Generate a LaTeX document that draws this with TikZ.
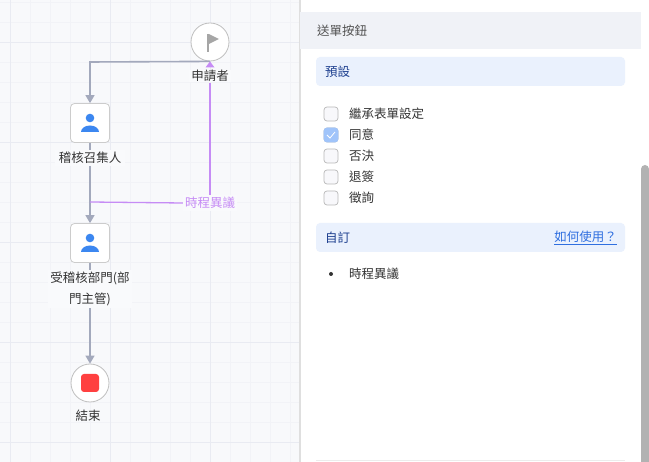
\documentclass[tikz,border=0pt]{standalone}
\usepackage{fontspec}
\setmainfont{Noto Sans CJK TC}
\usetikzlibrary{arrows.meta}
\definecolor{gridc}{HTML}{E9EBF2}
\definecolor{edge}{HTML}{A3A9BC}
\definecolor{purp}{HTML}{C68CF5}
\definecolor{blueic}{HTML}{3C87F0}
\definecolor{hdr}{HTML}{F0F2F7}
\definecolor{lblue}{HTML}{EAF1FD}
\definecolor{dblue}{HTML}{1D3F8F}
\definecolor{link}{HTML}{2F6FE0}
\definecolor{chk}{HTML}{A0C4FA}
\definecolor{txt}{HTML}{333333}
\tikzset{
  every node/.style={font=\fontsize{12.5}{17}\selectfont, text=txt},
  taskbox/.style={draw=gray!40, line width=0.8pt, fill=white, rounded corners=4pt, minimum size=39pt, inner sep=0},
  evt/.style={circle, draw=gray!50, line width=0.8pt, fill=white, minimum size=38pt, inner sep=0},
  lbl/.style={fill=white!60!hdr, inner sep=2pt},
  flow/.style={draw=edge, line width=1.6pt, -{Triangle[length=8pt,width=9pt]}},
  pflow/.style={draw=purp, line width=1.3pt},
  cbox/.style={draw=gray!55, fill=hdr!50, line width=0.7pt, rounded corners=3pt, minimum size=14pt, inner sep=0},
  itm/.style={anchor=west, inner sep=0}
}
\begin{document}
\begin{tikzpicture}[x=1pt,y=-1pt]
\useasboundingbox (0,0) rectangle (649,462);
\fill[white!50!hdr] (0,0) rectangle (300,462);
\foreach \x in {10,30,...,290} \draw[gridc!60, line width=0.5pt] (\x,0) -- (\x,462);
\foreach \y in {2,22,...,462} \draw[gridc!60, line width=0.5pt] (0,\y) -- (300,\y);
\foreach \x in {10,110,210} \draw[gridc, line width=0.8pt] (\x,0) -- (\x,462);
\foreach \y in {42,142,242,342,442} \draw[gridc, line width=0.8pt] (0,\y) -- (300,\y);
% nodes
\node[evt] (start) at (210,42) {};
\fill[gray!70] (207,34) rectangle (208.8,52);
\fill[gray!70] (208.8,34) -- (219,39) -- (208.8,44) -- cycle;
\node[taskbox] (t1) at (90,123) {};
\node[taskbox] (t2) at (90,243) {};
\foreach \y in {123,243}{
  \fill[blueic] (90,\y-5) circle (4.3);
  \fill[blueic] (81,\y+9) arc (180:360:9 and 6.5) -- cycle;
}
\node[lbl] (l1) at (90,158) {\,稽核召集人\,};
\node[lbl, align=center, font=\fontsize{12.5}{21}\selectfont] (l2) at (90,289) {受稽核部門(部\\門主管)};
\node[evt] (end) at (90,383) {};
\fill[red!75!white, rounded corners=3pt] (81,374) rectangle (99,392);
\node[lbl, fill=none] (lend) at (88,416) {結束};
% edges
\coordinate (c1) at (90,62);
\draw[flow] (start.south) -- (c1) -- (t1.north);
\draw[draw=edge, line width=1.6pt] (t1.south) -- (l1.north);
\draw[flow] (l1.south) -- (t2.north);
\draw[draw=edge, line width=1.6pt] (t2.south) -- (l2.north);
\draw[flow] (l2.south) -- (end.north);
\node[lbl, text=purp] (pl) at (210,203) {時程異議};
\coordinate (c2) at (90,202);
\draw[pflow] (c2) -- (pl.west);
\node[lbl, inner ysep=0.5pt] (lstart) at (210,76) {申請者};
\draw[pflow] (pl.north) -- (lstart.south);
\fill[purp] (205.5,67.5) -- (214.5,67.5) -- (210,61.5) -- cycle;
% right panel
\fill[white] (300,0) rectangle (649,462);
\fill[gray!25] (299,0) rectangle (300.5,462);
\fill[hdr] (300,12) rectangle (641,49);
\node[itm, text=txt!85] (h) at (317,31) {送單按鈕};
\fill[lblue, rounded corners=4pt] (316,57) rectangle (625,86);
\node[itm, text=dblue] (p) at (325,72) {預設};
\foreach \y/\t [count=\i] in {114/繼承表單設定,135/同意,156/否決,177/退簽,198/徵詢}{
  \node[cbox] (cb\i) at (331,\y) {};
  \node[itm] (ct\i) at (349,\y) {\t};
}
\node[cbox, draw=chk, fill=chk] at (cb2) {};
\draw[white, line width=0.8pt] (327,135) -- (330,138) -- (335,132);
\fill[lblue, rounded corners=4pt] (316,223) rectangle (625,252);
\node[itm, text=dblue] (c) at (325,238) {自訂};
\node[anchor=east, inner sep=0, text=link] (lk) at (617,238) {\underline{如何使用？}};
\fill[txt] (331,274) circle (2);
\node[itm] (b) at (349,274) {時程異議};
\fill[gray!60, rounded corners=4pt] (641,165) rectangle (649,470);
\draw[gray!15] (316,460) -- (625,460);
\end{tikzpicture}
\end{document}
